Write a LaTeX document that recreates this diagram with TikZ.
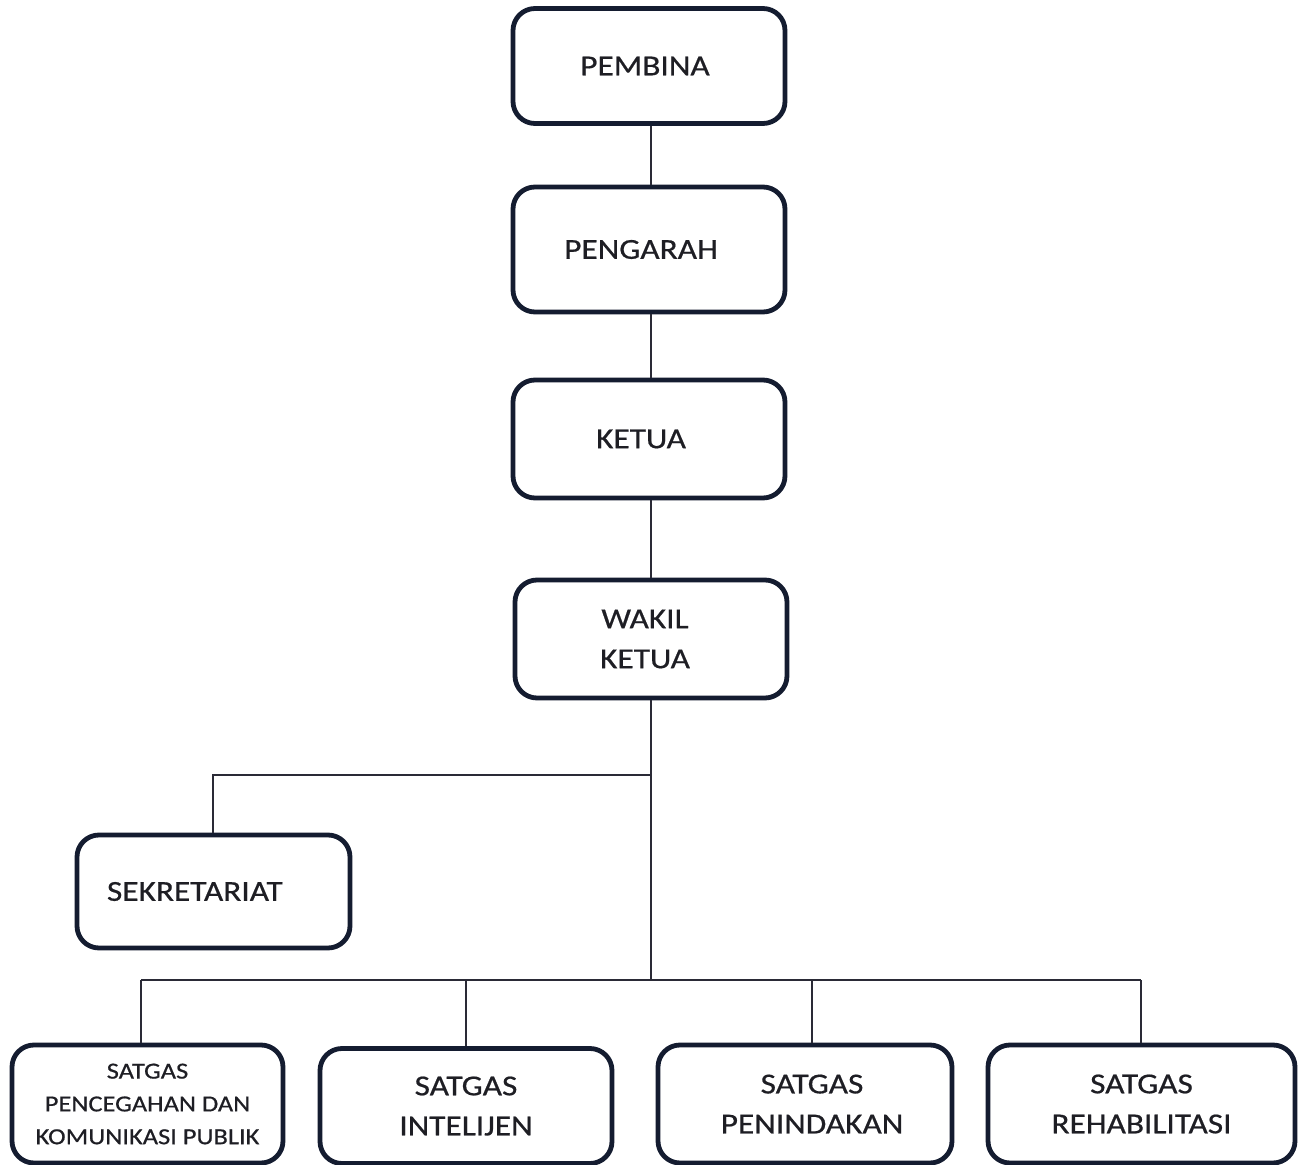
\documentclass[tikz,border=0pt]{standalone}
\usepackage{fontspec}
\setmainfont{Carlito}[FakeStretch=1.15,FakeBold=0.6]
\definecolor{boxc}{HTML}{141C30}
\definecolor{linec}{HTML}{2A2A36}
\definecolor{txtc}{HTML}{1E1E24}
\begin{document}
\begin{tikzpicture}[x=0.5pt,y=-0.5pt]
\tikzset{
  box/.style={draw=boxc, line width=2.4pt, rounded corners=11pt, align=center,
    inner sep=0pt, text=txtc, font=\fontsize{14.5pt}{20pt}\selectfont},
  conn/.style={draw=linec, line width=1pt},
}
\useasboundingbox (0,0) rectangle (1300,1165);
\fill[white] (0,0) rectangle (1300,1165);
% top chain
\node[box, minimum width=136pt, minimum height=57.5pt] (pembina) at (649,66) {PEMBINA\hspace*{4pt}};
\node[box, minimum width=136pt, minimum height=62.5pt] (pengarah) at (649,249.5) {PENGARAH\hspace*{8pt}};
\node[box, minimum width=136pt, minimum height=59pt] (ketua) at (649,439) {KETUA\hspace*{8pt}};
\node[box, minimum width=136pt, minimum height=59pt] (wakil) at (651,639) {WAKIL\hspace*{6pt}\\KETUA\hspace*{6pt}};
\node[box, minimum width=136.5pt, minimum height=56.5pt, text width=106.5pt, inner xsep=15pt, align=left] (sekr) at (213.5,891.5) {SEKRETARIAT};
% bottom row
\node[box, minimum width=135.5pt, minimum height=59pt, font=\fontsize{11.5pt}{16.4pt}\selectfont] (s1) at (147.5,1104) {SATGAS\\PENCEGAHAN DAN\\KOMUNIKASI PUBLIK};
\node[box, minimum width=146pt, minimum height=57.5pt] (s2) at (466,1106) {SATGAS\\INTELIJEN};
\node[box, minimum width=147pt, minimum height=59pt] (s3) at (805,1104) {\hspace*{7pt}SATGAS\\\hspace*{7pt}PENINDAKAN};
\node[box, minimum width=153.5pt, minimum height=59pt] (s4) at (1141.5,1104) {SATGAS\\REHABILITASI};
% junctions
\coordinate (j1) at (651,775);
\coordinate (j2) at (651,980);
\coordinate (d1) at (141,980);
\coordinate (d2) at (466,980);
\coordinate (d3) at (812,980);
\coordinate (d4) at (1141,980);
\coordinate (ds) at (213,775);
% connectors
\draw[conn] (pembina.south -| 651,0) -- (pengarah.north -| 651,0);
\draw[conn] (pengarah.south -| 651,0) -- (ketua.north -| 651,0);
\draw[conn] (ketua.south -| 651,0) -- (wakil.north -| 651,0);
\draw[conn] (wakil.south) -- (j2);
\draw[conn] (j1) -- (ds) -- (ds |- sekr.north);
\draw[conn] (d1) -- (d4);
\draw[conn] (d1) -- (d1 |- s1.north);
\draw[conn] (d2) -- (d2 |- s2.north);
\draw[conn] (d3) -- (d3 |- s3.north);
\draw[conn] (d4) -- (d4 |- s4.north);
\end{tikzpicture}
\end{document}
